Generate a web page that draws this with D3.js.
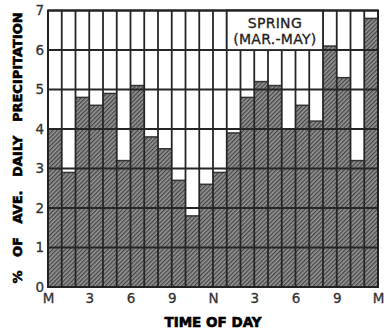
<!DOCTYPE html>
<html>
<head>
<meta charset="utf-8">
<script src="https://cdn.jsdelivr.net/npm/d3@7/dist/d3.min.js"></script>
<style>
  html, body { margin: 0; padding: 0; background: #fff; }
  svg { display: block; }
</style>
</head>
<body>
<script>
// Hourly share of average daily precipitation, spring (Mar–May)
const hours = d3.range(24);
const precipPct = [4.0, 2.9, 4.8, 4.6, 4.9, 3.2, 5.1, 3.8, 3.5, 2.7, 1.8, 2.6,
                   2.9, 3.9, 4.8, 5.2, 5.1, 4.0, 4.6, 4.2, 6.1, 5.3, 3.2, 6.8];
const xTickHours = [0, 3, 6, 9, 12, 15, 18, 21, 24];
const xTickLabels = ["M", "3", "6", "9", "N", "3", "6", "9", "M"];
const yTicks = [0, 1, 2, 3, 4, 5, 6, 7];
const legendLines = ["SPRING", "(MAR.-MAY)"];

const W = 384, H = 333;
const plotL = 48, plotR = 378, plotT = 10.5, plotB = 287;

const svg = d3.select("body").append("svg")
  .attr("width", W).attr("height", H);

// diagonal hatching for the bars
const defs = svg.append("defs");
const pat = defs.append("pattern")
  .attr("id", "hatch")
  .attr("patternUnits", "userSpaceOnUse")
  .attr("width", 3).attr("height", 3)
  .attr("patternTransform", "rotate(45)");
pat.append("rect").attr("width", 3).attr("height", 3).attr("fill", "#959595");
pat.append("rect").attr("width", 1.3).attr("height", 3).attr("fill", "#464646");

const x = d3.scaleBand().domain(hours).range([plotL, plotR]).paddingInner(0).paddingOuter(0);
const xh = d3.scaleLinear().domain([0, 24]).range([plotL, plotR]);
const y = d3.scaleLinear().domain([0, 7]).range([plotB, plotT]);

// bars
svg.append("g").selectAll("rect")
  .data(hours)
  .join("rect")
  .attr("x", d => x(d))
  .attr("width", x.bandwidth())
  .attr("y", d => y(precipPct[d]))
  .attr("height", d => y(0) - y(precipPct[d]))
  .attr("fill", "url(#hatch)");

// bar tops
svg.append("g").selectAll("line")
  .data(hours)
  .join("line")
  .attr("x1", d => x(d)).attr("x2", d => x(d) + x.bandwidth())
  .attr("y1", d => y(precipPct[d])).attr("y2", d => y(precipPct[d]))
  .attr("stroke", "#333").attr("stroke-width", 1.5);

// grid
const grid = svg.append("g").attr("stroke", "#262626");
grid.selectAll("line.h")
  .data(yTicks.slice(1))
  .join("line").attr("class", "h")
  .attr("x1", plotL).attr("x2", plotR)
  .attr("y1", d => y(d)).attr("y2", d => y(d))
  .attr("stroke-width", 1.8);
grid.selectAll("line.v")
  .data(d3.range(1, 24))
  .join("line").attr("class", "v")
  .attr("x1", d => xh(d)).attr("x2", d => xh(d))
  .attr("y1", plotT).attr("y2", plotB)
  .attr("stroke-width", 1.8);

// season label box
const box = svg.append("g");
box.append("rect")
  .attr("x", xh(13)).attr("y", y(7))
  .attr("width", xh(20) - xh(13)).attr("height", y(6) - y(7))
  .attr("fill", "#fff").attr("stroke", "#262626").attr("stroke-width", 1.8);
box.selectAll("text")
  .data(legendLines)
  .join("text")
  .attr("x", (xh(13) + xh(20)) / 2)
  .attr("y", (d, i) => y(7) + 17 + i * 16)
  .attr("text-anchor", "middle")
  .attr("font-family", "DejaVu Sans, sans-serif")
  .attr("font-size", 14)
  .attr("letter-spacing", 0.3)
  .attr("fill", "#222")
  .attr("stroke", "#222").attr("stroke-width", 0.3)
  .text(d => d);

// frame
svg.append("rect")
  .attr("x", plotL).attr("y", plotT)
  .attr("width", plotR - plotL).attr("height", plotB - plotT)
  .attr("fill", "none").attr("stroke", "#222").attr("stroke-width", 2);

// axes
const yAxis = svg.append("g")
  .attr("transform", `translate(${plotL},0)`)
  .call(d3.axisLeft(y).tickValues(yTicks).tickSize(0).tickPadding(4).tickFormat(d3.format("d")));
const xAxis = svg.append("g")
  .attr("transform", `translate(0,${plotB})`)
  .call(d3.axisBottom(xh).tickValues(xTickHours).tickSize(0).tickPadding(6)
    .tickFormat((d, i) => xTickLabels[i]));
[yAxis, xAxis].forEach(g => {
  g.select(".domain").remove();
  g.selectAll("text")
    .attr("font-family", "DejaVu Sans, sans-serif")
    .attr("font-size", 13.5)
    .attr("fill", "#333")
    .attr("stroke", "#333").attr("stroke-width", 0.3);
});

// axis titles
svg.append("text")
  .attr("x", 213).attr("y", 327)
  .attr("text-anchor", "middle")
  .attr("font-family", "DejaVu Sans, sans-serif")
  .attr("font-weight", "bold")
  .attr("font-size", 13.5)
  .attr("fill", "#000")
  .attr("stroke", "#000").attr("stroke-width", 0.6)
  .text("TIME OF DAY");

svg.append("text")
  .attr("transform", "translate(22,148) rotate(-90)")
  .attr("text-anchor", "middle")
  .attr("font-family", "DejaVu Sans, sans-serif")
  .attr("font-weight", "bold")
  .attr("font-size", 13)
  .attr("word-spacing", 9)
  .attr("fill", "#000")
  .attr("stroke", "#000").attr("stroke-width", 0.6)
  .text("% OF AVE. DAILY PRECIPITATION");
</script>
</body>
</html>
